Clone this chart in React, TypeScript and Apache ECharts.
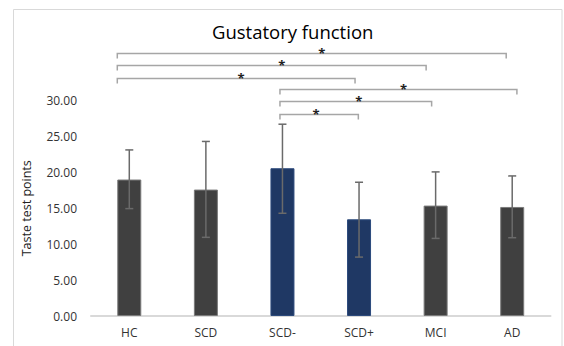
import React, { useEffect, useRef } from "react";
import * as echarts from "echarts";

const categories = ["HC", "SCD", "SCD-", "SCD+", "MCI", "AD"];
const means = [19.0, 17.6, 20.57, 13.46, 15.37, 15.18];
const errHigh = [23.12, 24.3, 26.7, 18.62, 20.06, 19.5];
const errLow = [14.95, 10.95, 14.3, 8.2, 10.8, 10.9];
const highlighted = [false, false, true, true, false, false];
const yTicks = [0, 5, 10, 15, 20, 25, 30];

const bracketFrom = ["HC", "HC", "HC", "SCD-", "SCD-", "SCD-"];
const bracketTo = ["AD", "MCI", "SCD+", "AD", "MCI", "SCD+"];
const bracketLevel = [36.65, 34.98, 33.08, 31.59, 29.92, 28.1];
const bracketMark = ["*", "*", "*", "*", "*", "*"];

// small pixel nudges for hand-placed bracket ends (style only)
const leftNudge = [-12, -12, -12, -2.5, -2.5, -2.5];
const rightNudge = [-6, -9.5, -4, 4.7, -4, -0.7];
const starNudge = [10, 10, 5, 5, 3, -3];

const FONT = "'Open Sans', 'Noto Sans', sans-serif";

export default function App() {
  const ref = useRef<HTMLDivElement>(null);
  useEffect(() => {
    if (!ref.current) return;
    const chart = echarts.init(ref.current, null, { renderer: "svg" });
    const errData = categories.map((_, i) => [i, errLow[i], errHigh[i]]);
    const bracketData = bracketFrom.map((f, i) => [
      categories.indexOf(f),
      categories.indexOf(bracketTo[i]),
      bracketLevel[i],
      i,
    ]);
    chart.setOption({
      animation: false,
      textStyle: { fontFamily: FONT },
      title: {
        text: "Gustatory function",
        left: 207,
        top: 17,
        textStyle: { fontFamily: FONT, fontSize: 18.5, fontWeight: "normal", color: "#000" },
      },
      graphic: [
        {
          type: "rect",
          shape: { x: 13.5, y: 9.5, width: 548.5, height: 400 },
          style: { fill: "none", stroke: "#d9d9d9", lineWidth: 1 },
          silent: true,
        },
      ],
      grid: { left: 91, right: 13.5, top: 100.5, bottom: 30 },
      xAxis: {
        type: "category",
        data: categories,
        axisLine: { lineStyle: { color: "#d9d9d9", width: 2 } },
        axisTick: { show: false },
        axisLabel: { color: "#333", fontSize: 12, fontFamily: FONT, margin: 10 },
      },
      yAxis: {
        type: "value",
        min: yTicks[0],
        max: yTicks[yTicks.length - 1],
        interval: 5,
        name: "Taste test points",
        nameLocation: "middle",
        nameGap: 58,
        nameTextStyle: { color: "#222", fontSize: 12.5, fontFamily: FONT },
        splitLine: { show: false },
        axisLine: { show: false },
        axisTick: { show: false },
        axisLabel: {
          color: "#333",
          fontSize: 12,
          fontFamily: FONT,
          margin: 14,
          formatter: (v: number) => v.toFixed(2),
        },
      },
      series: [
        {
          type: "bar",
          barWidth: 24,
          data: means.map((m, i) => ({
            value: m,
            itemStyle: {
              color: highlighted[i] ? "#1f3864" : "#404040",
              borderColor: highlighted[i] ? "#2c4a7c" : "#7a7a7a",
              borderWidth: 1,
            },
          })),
        },
        {
          type: "custom",
          data: errData,
          z: 5,
          renderItem: (params: any, api: any) => {
            const x = api.value(0);
            const lo = api.coord([x, api.value(1)]);
            const hi = api.coord([x, api.value(2)]);
            const w = 4;
            const style = { stroke: "#6a6a6a", lineWidth: 1.5 };
            return {
              type: "group",
              children: [
                { type: "line", shape: { x1: hi[0], y1: hi[1], x2: lo[0], y2: lo[1] }, style },
                { type: "line", shape: { x1: hi[0] - w, y1: hi[1], x2: hi[0] + w, y2: hi[1] }, style },
                { type: "line", shape: { x1: lo[0] - w, y1: lo[1], x2: lo[0] + w, y2: lo[1] }, style },
              ],
            };
          },
        },
        {
          type: "custom",
          data: bracketData,
          clip: false,
          z: 6,
          renderItem: (params: any, api: any) => {
            const i = api.value(3);
            const a = api.coord([api.value(0), api.value(2)]);
            const b = api.coord([api.value(1), api.value(2)]);
            const x1 = a[0] + leftNudge[i];
            const x2 = b[0] + rightNudge[i];
            const y = Math.round(a[1]) + 0.5;
            const style = { stroke: "#a6a6a6", lineWidth: 1.5, fill: "none" };
            return {
              type: "group",
              children: [
                {
                  type: "polyline",
                  shape: { points: [[x1, y + 5], [x1, y], [x2, y], [x2, y + 5]] },
                  style,
                },
                {
                  type: "text",
                  style: {
                    text: bracketMark[i],
                    x: (x1 + x2) / 2 + starNudge[i],
                    y: y - 0.5,
                    textAlign: "center",
                    textVerticalAlign: "middle",
                    fill: "#222",
                    font: `bold 13px ${FONT}`,
                  },
                },
              ],
            };
          },
        },
      ],
    });
    return () => chart.dispose();
  }, []);
  return (
    <div
      ref={ref}
      style={{ position: "fixed", left: 0, top: 0, width: 564, height: 346, background: "#fff" }}
    />
  );
}
